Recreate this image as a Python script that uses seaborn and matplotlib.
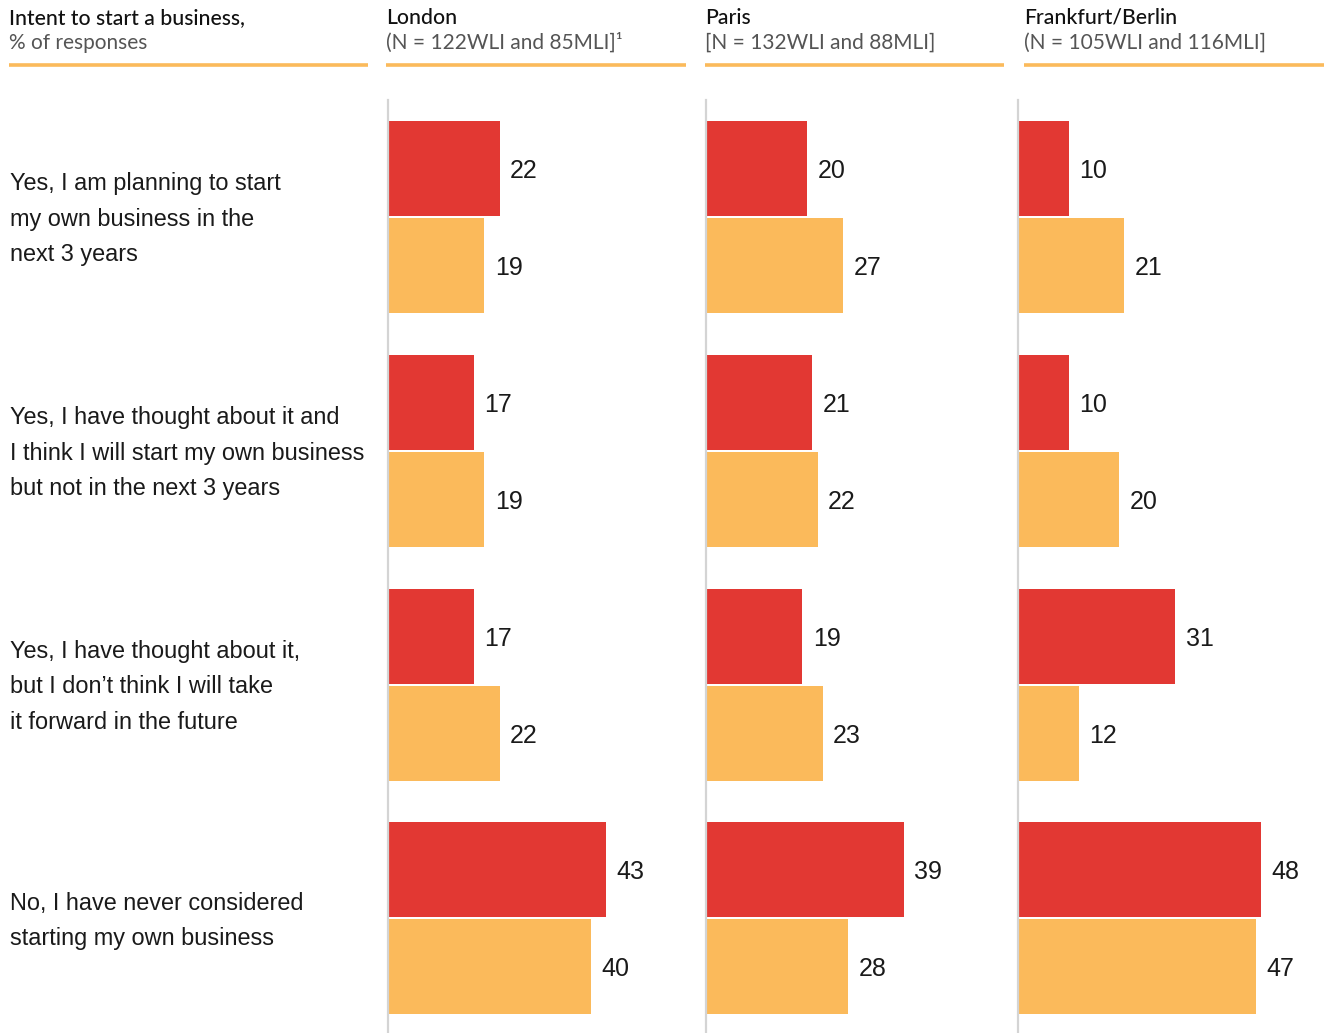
import matplotlib
matplotlib.use("Agg")
import matplotlib.pyplot as plt
import matplotlib.transforms as mtransforms
from matplotlib.lines import Line2D
import seaborn as sns
import pandas as pd

# ---- data ----
categories = [
    "Yes, I am planning to start\nmy own business in the\nnext 3 years",
    "Yes, I have thought about it and\nI think I will start my own business\nbut not in the next 3 years",
    "Yes, I have thought about it,\nbut I don\u2019t think I will take\nit forward in the future",
    "No, I have never considered\nstarting my own business",
]
series_names = ["WLI", "MLI"]
cities = ["London", "Paris", "Frankfurt/Berlin"]
city_subtitles = ["(N = 122WLI and 85MLI]\u00b9", "[N = 132WLI and 88MLI]", "(N = 105WLI and 116MLI]"]
london_red = [22, 17, 17, 43]
london_yellow = [19, 19, 22, 40]
paris_red = [20, 21, 19, 39]
paris_yellow = [27, 22, 23, 28]
frankfurt_red = [10, 10, 31, 48]
frankfurt_yellow = [21, 20, 12, 47]
city_values = [
    (london_red, london_yellow),
    (paris_red, paris_yellow),
    (frankfurt_red, frankfurt_yellow),
]
title_main = "Intent to start a business,"
title_sub = "% of responses"

RED = "#E23833"
YELLOW = "#FBBA5B"
W, H = 1325, 1033

sns.set_theme(style="white")
plt.rcParams["font.family"] = ["Liberation Sans", "DejaVu Sans"]

fig = plt.figure(figsize=(W / 100, H / 100), dpi=100)

px_per_unit = 5.07
axes_px = [(388, 686), (706, 1004), (1018, 1325)]
top_px = 100

for i, (city, (red, yel)) in enumerate(zip(cities, city_values)):
    x0, x1 = axes_px[i]
    ax = fig.add_axes([x0 / W, 0, (x1 - x0) / W, 1 - top_px / H])
    df = pd.DataFrame({
        "category": categories * 2,
        "value": list(red) + list(yel),
        "series": [series_names[0]] * 4 + [series_names[1]] * 4,
    })
    sns.barplot(data=df, y="category", x="value", hue="series", orient="h",
                order=categories, hue_order=series_names,
                palette=[RED, YELLOW], width=0.83, gap=0.02,
                legend=False, ax=ax, saturation=1, linewidth=0)
    for cont in ax.containers:
        labels = ax.bar_label(cont, fmt="{:.0f}", padding=7.5, fontsize=18, color="#1a1a1a")
        for lb in labels:
            lb.set_va("center_baseline")
    ax.set_xlim(0, (x1 - x0) / px_per_unit)
    ax.set_ylim(3.49, -0.5)
    ax.set_xlabel("")
    ax.set_ylabel("")
    ax.set_xticks([])
    ax.set_yticks([])
    for s in ["top", "right", "bottom"]:
        ax.spines[s].set_visible(False)
    ax.spines["left"].set_color("#d4d4d4")
    ax.spines["left"].set_linewidth(1.6)
    if i == 0:
        tr = mtransforms.blended_transform_factory(fig.transFigure, ax.transData)
        for j, cat in enumerate(categories):
            ax.text(10 / W, j + 0.01, cat, transform=tr, ha="left", va="center",
                    fontsize=16.9, color="#1a1a1a", linespacing=1.69, clip_on=False)

# headers
hdr_fam = ["Lato", "DejaVu Sans"]
headers = [(9, 368, title_main, title_sub)] + [
    (x, e, c, s) for (x, e), c, s in zip([(386, 686), (705, 1004), (1024, 1324)], cities, city_subtitles)
]
for x0, x1, t, s in headers:
    fig.text(x0 / W, 1 - 18 / H, t, ha="left", va="center", fontsize=15.2,
             family=hdr_fam, color="#111111", fontweight="medium")
    fig.text(x0 / W, 1 - 43 / H, s, ha="left", va="center", fontsize=15.0,
             family=hdr_fam, color="#555555", fontweight="normal")
    fig.add_artist(Line2D([x0 / W, x1 / W], [1 - 65 / H, 1 - 65 / H],
                          transform=fig.transFigure, color=YELLOW, lw=2.6,
                          solid_capstyle="butt"))

fig.savefig("out.png", dpi=100, facecolor="white")
